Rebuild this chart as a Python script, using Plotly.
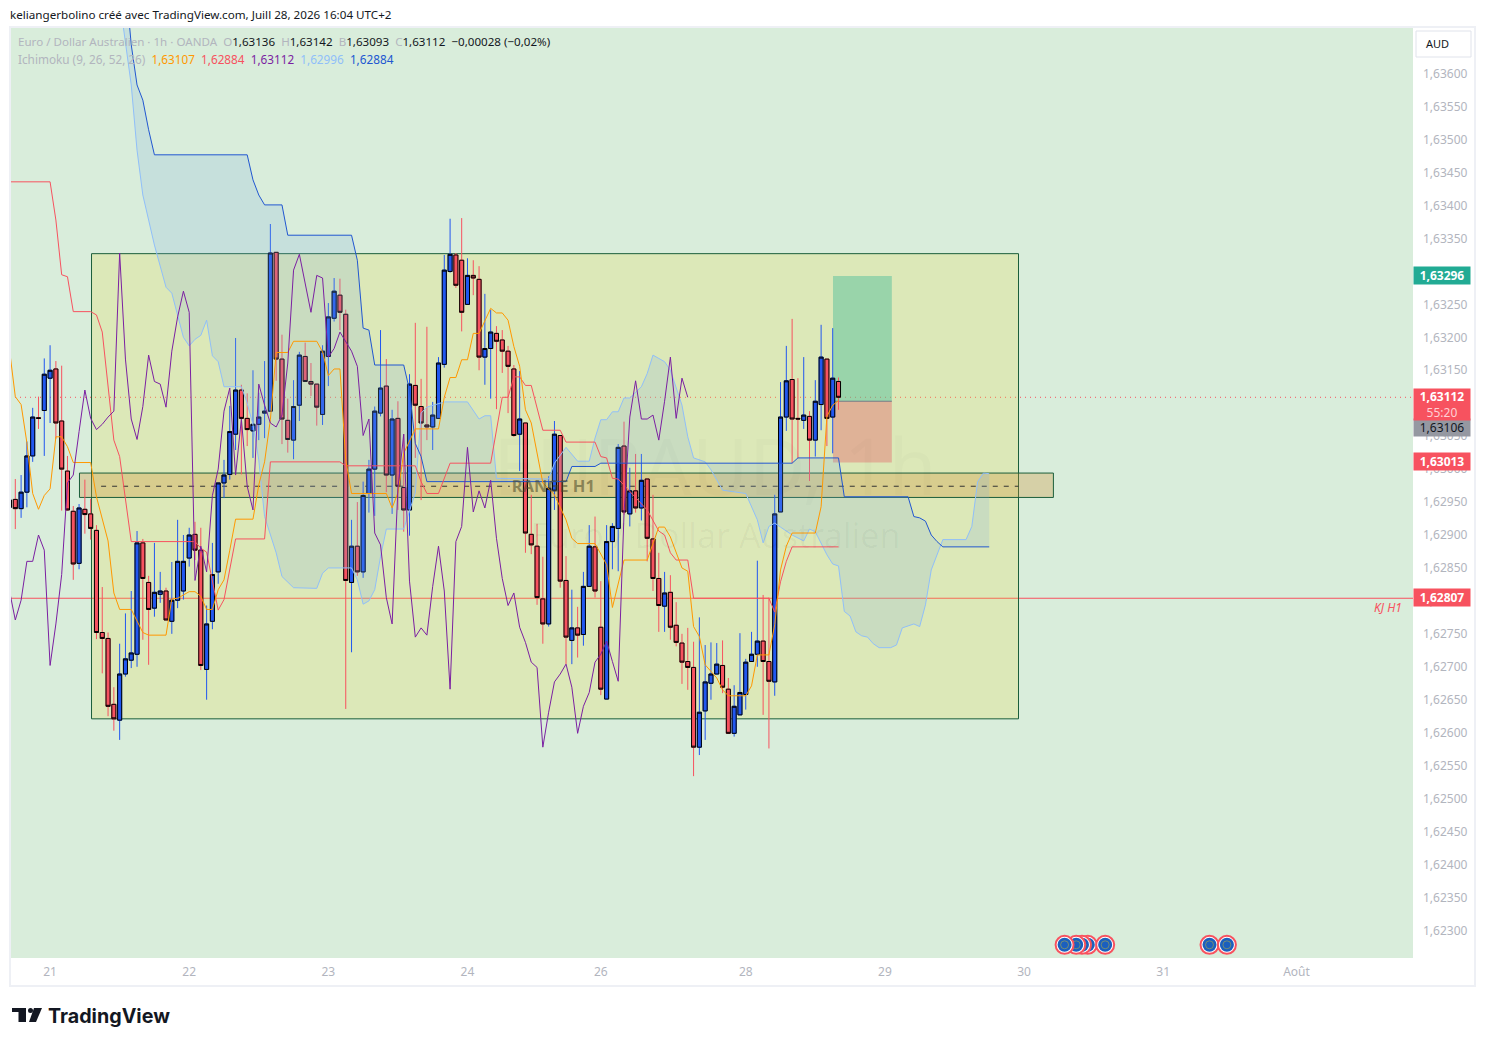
import plotly.graph_objects as go

# bar index -1 .. 142, hourly candles
bar_index = list(range(-1, 143))

opens = [
    1.62945, 1.62957, 1.62943, 1.62968, 1.63023, 1.63081, 1.63092, 1.63141, 1.63155, 1.63076, 1.63000, 1.62939,
    1.62860, 1.62942, 1.62935, 1.62910, 1.62755, 1.62746, 1.62646, 1.62622, 1.62692, 1.62713, 1.62722, 1.62891,
    1.62831, 1.62792, 1.62813, 1.62818, 1.62772, 1.62804, 1.62818, 1.62868, 1.62904, 1.62880, 1.62699, 1.62772,
    1.62847, 1.62982, 1.62995, 1.63056, 1.63123, 1.63080, 1.63061, 1.63071, 1.63088, 1.63091, 1.63332, 1.63170,
    1.63077, 1.63047, 1.63100, 1.63174, 1.63136, 1.63132, 1.63086, 1.63174, 1.63232, 1.63267, 1.63238, 1.62831,
    1.62886, 1.62847, 1.62966, 1.63003, 1.63088, 1.63129, 1.62994, 1.63080, 1.62975, 1.62941, 1.63130, 1.63098,
    1.63070, 1.63067, 1.63080, 1.63162, 1.63303, 1.63328, 1.63320, 1.63253, 1.63297, 1.63291, 1.63173, 1.63186,
    1.63209, 1.63199, 1.63182, 1.63155, 1.63056, 1.63073, 1.62904, 1.62886, 1.62806, 1.62768, 1.62971, 1.63054,
    1.62834, 1.62743, 1.62762, 1.62752, 1.62825, 1.62885, 1.62763, 1.62654, 1.62893, 1.62913, 1.63038, 1.62935,
    1.62970, 1.62944, 1.62988, 1.62897, 1.62837, 1.62795, 1.62816, 1.62766, 1.62739, 1.62711, 1.62702, 1.62581,
    1.62636, 1.62678, 1.62692, 1.62705, 1.62669, 1.62602, 1.62630, 1.62661, 1.62711, 1.62722, 1.62742, 1.62711,
    1.62680, 1.62938, 1.63082, 1.63139, 1.63080, 1.63077, 1.63083, 1.63047, 1.63101, 1.63170, 1.63082, 1.63136,
]
highs = [
    1.62958, 1.62988, 1.62994, 1.63045, 1.63096, 1.63113, 1.63171, 1.63191, 1.63167, 1.63160, 1.63023, 1.62947,
    1.62950, 1.62987, 1.62958, 1.62918, 1.62824, 1.62755, 1.62672, 1.62738, 1.62784, 1.62818, 1.62909, 1.62897,
    1.62841, 1.62891, 1.62847, 1.62823, 1.62862, 1.62926, 1.62903, 1.62914, 1.62923, 1.62914, 1.62796, 1.62891,
    1.62982, 1.63017, 1.63099, 1.63202, 1.63131, 1.63118, 1.63153, 1.63119, 1.63167, 1.63375, 1.63332, 1.63207,
    1.63110, 1.63138, 1.63181, 1.63195, 1.63164, 1.63132, 1.63191, 1.63255, 1.63293, 1.63292, 1.63245, 1.62926,
    1.62953, 1.62984, 1.63017, 1.63098, 1.63214, 1.63170, 1.63093, 1.63106, 1.63056, 1.63147, 1.63225, 1.63140,
    1.63219, 1.63105, 1.63173, 1.63328, 1.63383, 1.63331, 1.63384, 1.63323, 1.63320, 1.63311, 1.63269, 1.63245,
    1.63220, 1.63214, 1.63190, 1.63161, 1.63152, 1.63073, 1.62964, 1.62920, 1.62870, 1.62992, 1.63076, 1.63054,
    1.62871, 1.62820, 1.62794, 1.62847, 1.62918, 1.62931, 1.62833, 1.62918, 1.62921, 1.63041, 1.63075, 1.63005,
    1.63026, 1.63026, 1.62988, 1.62964, 1.62876, 1.62847, 1.62842, 1.62801, 1.62753, 1.62762, 1.62741, 1.62778,
    1.62736, 1.62740, 1.62739, 1.62743, 1.62686, 1.62675, 1.62754, 1.62715, 1.62756, 1.62864, 1.62812, 1.62808,
    1.62964, 1.63135, 1.63190, 1.63231, 1.63141, 1.63173, 1.63091, 1.63138, 1.63222, 1.63170, 1.63217, 1.63142,
]
lows = [
    1.62943, 1.62912, 1.62929, 1.62945, 1.63014, 1.63064, 1.63023, 1.63073, 1.63049, 1.62940, 1.62940, 1.62835,
    1.62851, 1.62905, 1.62896, 1.62745, 1.62693, 1.62628, 1.62606, 1.62592, 1.62688, 1.62701, 1.62703, 1.62744,
    1.62706, 1.62779, 1.62800, 1.62774, 1.62753, 1.62792, 1.62805, 1.62855, 1.62865, 1.62698, 1.62653, 1.62760,
    1.62829, 1.62959, 1.62987, 1.63032, 1.62995, 1.63038, 1.63020, 1.63047, 1.63050, 1.63091, 1.63137, 1.63041,
    1.63028, 1.63018, 1.63076, 1.63136, 1.63114, 1.63069, 1.63070, 1.63129, 1.63227, 1.63214, 1.62639, 1.62725,
    1.62841, 1.62838, 1.62937, 1.62932, 1.63083, 1.62968, 1.62935, 1.62941, 1.62908, 1.62902, 1.63020, 1.62956,
    1.63047, 1.63032, 1.63080, 1.63157, 1.63301, 1.63278, 1.63212, 1.63253, 1.63267, 1.63153, 1.63131, 1.63110,
    1.63094, 1.63149, 1.63088, 1.63052, 1.63000, 1.62876, 1.62874, 1.62797, 1.62738, 1.62764, 1.62941, 1.62823,
    1.62707, 1.62707, 1.62717, 1.62735, 1.62825, 1.62808, 1.62660, 1.62654, 1.62851, 1.62848, 1.62934, 1.62916,
    1.62937, 1.62925, 1.62863, 1.62818, 1.62756, 1.62756, 1.62744, 1.62734, 1.62677, 1.62668, 1.62537, 1.62569,
    1.62592, 1.62653, 1.62692, 1.62663, 1.62601, 1.62597, 1.62630, 1.62638, 1.62711, 1.62703, 1.62630, 1.62579,
    1.62659, 1.62938, 1.63061, 1.63012, 1.63020, 1.63064, 1.62985, 1.63022, 1.63062, 1.63038, 1.63027, 1.63093,
]
closes = [
    1.62956, 1.62943, 1.62968, 1.63023, 1.63082, 1.63080, 1.63147, 1.63153, 1.63073, 1.63003, 1.62941, 1.62859,
    1.62944, 1.62934, 1.62913, 1.62755, 1.62746, 1.62643, 1.62624, 1.62692, 1.62715, 1.62724, 1.62891, 1.62837,
    1.62790, 1.62816, 1.62818, 1.62774, 1.62804, 1.62863, 1.62863, 1.62903, 1.62880, 1.62705, 1.62768, 1.62843,
    1.62982, 1.62994, 1.63060, 1.63123, 1.63080, 1.63063, 1.63071, 1.63082, 1.63091, 1.63331, 1.63170, 1.63079,
    1.63048, 1.63098, 1.63176, 1.63136, 1.63132, 1.63097, 1.63182, 1.63234, 1.63273, 1.63241, 1.62834, 1.62886,
    1.62847, 1.62963, 1.63003, 1.63091, 1.63126, 1.62994, 1.63079, 1.62977, 1.62941, 1.63132, 1.63100, 1.63073,
    1.63067, 1.63085, 1.63164, 1.63305, 1.63329, 1.63282, 1.63241, 1.63297, 1.63293, 1.63173, 1.63186, 1.63211,
    1.63197, 1.63182, 1.63159, 1.63054, 1.63079, 1.62906, 1.62888, 1.62808, 1.62768, 1.62974, 1.63056, 1.62833,
    1.62748, 1.62762, 1.62751, 1.62825, 1.62886, 1.62818, 1.62669, 1.62893, 1.62916, 1.63036, 1.62938, 1.62970,
    1.62944, 1.62986, 1.62898, 1.62837, 1.62796, 1.62815, 1.62763, 1.62740, 1.62710, 1.62702, 1.62581, 1.62634,
    1.62680, 1.62692, 1.62707, 1.62672, 1.62602, 1.62643, 1.62664, 1.62710, 1.62722, 1.62742, 1.62711, 1.62681,
    1.62935, 1.63082, 1.63137, 1.63079, 1.63079, 1.63085, 1.63047, 1.63106, 1.63173, 1.63080, 1.63141, 1.63112,
]

# ichimoku lines, only the bars where the line visibly bends
tenkan_x = [-1, 0, 1, 2, 3, 4, 5, 6, 7, 8, 9, 10, 13, 14, 16, 17, 18, 20, 22, 23, 26, 27, 28, 30, 31, 32, 33, 34,
            35, 36, 37, 38, 41, 42, 43, 44, 45, 47, 48, 52, 53, 54, 55, 56, 57, 58, 64, 65, 66, 67, 69, 73, 74, 75,
            76, 77, 78, 79, 80, 82, 83, 84, 85, 86, 87, 88, 89, 91, 93, 95, 96, 97, 100, 102, 103, 105, 109, 111,
            112, 113, 115, 116, 117, 118, 119, 121, 122, 123, 126, 127, 128, 130, 131, 132, 133, 134, 138, 139,
            140, 141, 142]
tenkan_y = [1.63184, 1.63113, 1.63101, 1.63043, 1.62966, 1.62942, 1.62963, 1.62973, 1.63052, 1.63052, 1.63037,
            1.63013, 1.63013, 1.62961, 1.62894, 1.62815, 1.62790, 1.62790, 1.62755, 1.62751, 1.62751, 1.62806,
            1.62807, 1.62817, 1.62817, 1.62810, 1.62790, 1.62790, 1.62820, 1.62835, 1.62880, 1.62927, 1.62927,
            1.62979, 1.63014, 1.63078, 1.63180, 1.63180, 1.63197, 1.63197, 1.63181, 1.63145, 1.63155, 1.63155,
            1.63017, 1.62966, 1.62966, 1.62944, 1.62967, 1.63027, 1.63064, 1.63064, 1.63112, 1.63142, 1.63142,
            1.63169, 1.63169, 1.63209, 1.63209, 1.63247, 1.63240, 1.63240, 1.63229, 1.63189, 1.63159, 1.63093,
            1.63073, 1.62982, 1.62964, 1.62926, 1.62898, 1.62890, 1.62890, 1.62858, 1.62793, 1.62865, 1.62865,
            1.62915, 1.62915, 1.62900, 1.62853, 1.62848, 1.62764, 1.62749, 1.62706, 1.62686, 1.62668, 1.62659,
            1.62659, 1.62674, 1.62721, 1.62721, 1.62767, 1.62850, 1.62886, 1.62906, 1.62906, 1.62946, 1.63083,
            1.63100, 1.63107]

kijun_x = [-1, 6, 7, 8, 9, 10, 13, 14, 15, 17, 18, 20, 31, 32, 33, 35, 36, 37, 38, 43, 44, 56, 57, 69, 70, 71, 73,
           75, 82, 84, 85, 86, 87, 88, 89, 91, 94, 95, 100, 101, 102, 103, 104, 109, 110, 111, 112, 113, 114, 116,
           117, 130, 131, 132, 133, 134, 142]
kijun_y = [1.63439, 1.63439, 1.63381, 1.63298, 1.63295, 1.63242, 1.63242, 1.63237, 1.63211, 1.63047, 1.63022,
           1.62893, 1.62893, 1.62883, 1.62877, 1.62789, 1.62805, 1.62850, 1.62897, 1.62897, 1.63014, 1.63014,
           1.63008, 1.63008, 1.62984, 1.62966, 1.62966, 1.63012, 1.63012, 1.63112, 1.63112, 1.63143, 1.63143,
           1.63130, 1.63130, 1.63062, 1.63062, 1.63044, 1.63044, 1.63022, 1.63020, 1.62989, 1.62988, 1.62941,
           1.62926, 1.62909, 1.62903, 1.62876, 1.62865, 1.62865, 1.62807, 1.62807, 1.62786, 1.62832, 1.62863,
           1.62885, 1.62885]

senkou_a_x = [18, 19, 20, 21, 22, 23, 24, 26, 27, 29, 30, 31, 32, 33, 34, 35, 36, 39, 40, 41, 42, 43, 45, 46, 48,
              52, 53, 54, 58, 59, 60, 61, 62, 63, 64, 67, 69, 70, 71, 74, 78, 80, 81, 82, 83, 92, 93, 95, 97, 99,
              100, 101, 102, 103, 104, 105, 106, 108, 109, 110, 112, 113, 115, 116, 117, 119, 120, 122, 126, 128,
              129, 130, 131, 132, 134, 136, 137, 138, 140, 141, 142, 143, 144, 145, 146, 147, 148, 149, 151, 152,
              153, 155, 156, 157, 158, 160, 164, 165, 166, 167, 168]
senkou_a_y = [1.63715, 1.63654, 1.63586, 1.63487, 1.63419, 1.63381, 1.63343, 1.63279, 1.63270, 1.63203, 1.63190,
              1.63200, 1.63206, 1.63229, 1.63175, 1.63166, 1.63128, 1.63128, 1.63103, 1.63070, 1.63017, 1.62931,
              1.62876, 1.62840, 1.62823, 1.62822, 1.62845, 1.62853, 1.62853, 1.62835, 1.62798, 1.62803, 1.62820,
              1.62870, 1.62912, 1.62912, 1.62967, 1.63088, 1.63097, 1.63105, 1.63105, 1.63079, 1.63084, 1.63084,
              1.62989, 1.62988, 1.63012, 1.63036, 1.63015, 1.63015, 1.63050, 1.63078, 1.63078, 1.63090, 1.63090,
              1.63111, 1.63111, 1.63128, 1.63148, 1.63176, 1.63166, 1.63153, 1.63100, 1.63052, 1.63020, 1.63014,
              1.63002, 1.62971, 1.62966, 1.62926, 1.62891, 1.62916, 1.62921, 1.62915, 1.62903, 1.62894, 1.62912,
              1.62908, 1.62873, 1.62859, 1.62856, 1.62787, 1.62780, 1.62756, 1.62750, 1.62748, 1.62738, 1.62732,
              1.62732, 1.62736, 1.62762, 1.62768, 1.62764, 1.62797, 1.62850, 1.62896, 1.62896, 1.62916, 1.62984,
              1.62997, 1.62996]

senkou_b_x = [19, 20, 21, 22, 23, 24, 40, 41, 42, 43, 46, 47, 58, 59, 60, 61, 62, 67, 68, 69, 70, 71, 95, 96, 100,
              101, 134, 135, 142, 143, 154, 155, 156, 157, 158, 159, 160, 168]
senkou_b_y = [1.63745, 1.63647, 1.63586, 1.63563, 1.63518, 1.63480, 1.63480, 1.63442, 1.63419, 1.63404, 1.63404,
              1.63358, 1.63358, 1.63320, 1.63217, 1.63214, 1.63161, 1.63161, 1.63123, 1.63042, 1.63022, 1.62984,
              1.62984, 1.63007, 1.63007, 1.63012, 1.63012, 1.63020, 1.63020, 1.62961, 1.62961, 1.62931, 1.62929,
              1.62924, 1.62903, 1.62893, 1.62885, 1.62885]

# chikou is the close moved back 26 bars
chikou_shift = 26

# drawings on the chart, in bar index and price
range_box_x = [13.15, 173.05]
range_box_y = [1.62624, 1.63330]
band_box_x = [11.07, 179.07]
band_box_y = [1.62960, 1.62997]
band_mid = 1.62977
band_mid_left = [14.8, 85.3]
band_mid_right = [102.2, 173.05]
band_label_x = 92.8
band_label_y = 1.62974
kj_level = 1.62807
last_close = 1.63112
position_x = [141.05, 151.2]
take_profit = 1.63296
entry = 1.63106
stop_loss = 1.63013

event_bars = [185, 184, 183, 181, 188, 206, 209]
event_price = 1.62281

x_tick_bars = [6, 30, 54, 78, 101, 126, 150, 174, 198, 221]
x_tick_text = ['21', '22', '23', '24', '26', '28', '29', '30', '31', 'Août']

FONT = 'Noto Sans'
GREY = '#b2b5be'
RED = '#f7525f'
BLUE = '#2157f0'
BLACK = '#131722'

# chart area in page pixels, the page body adds 8px all round
W, H = 1469, 1030
PX0, PX1, PY0, PY1 = 10, 1413, 27, 958


def xp(px):
    return (px - PX0) / (PX1 - PX0)


def yp(py):
    return (PY1 - py) / (PY1 - PY0)


fig = go.Figure()

# cloud
fig.add_trace(go.Scatter(x=senkou_a_x, y=senkou_a_y, mode='lines', line=dict(color='#90bff9', width=1)))
fig.add_trace(go.Scatter(x=senkou_b_x, y=senkou_b_y, mode='lines', line=dict(color='#2157d1', width=1),
                         fill='tonexty', fillcolor='rgba(126,176,225,0.2)'))
fig.add_trace(go.Scatter(x=kijun_x, y=kijun_y, mode='lines', line=dict(color=RED, width=1)))
fig.add_trace(go.Scatter(x=tenkan_x, y=tenkan_y, mode='lines', line=dict(color='#ff9800', width=1)))
fig.add_trace(go.Scatter(x=bar_index[:-chikou_shift], y=closes[chikou_shift:], mode='lines',
                         line=dict(color='#7b1fa2', width=1)))

# zone label sits behind the candles
fig.add_trace(go.Scatter(x=[band_label_x], y=[band_label_y], mode='text', text=['<b>RANGE H1</b>'],
                         textposition='middle center',
                         textfont=dict(family=FONT, size=16.5, color='rgba(70,70,40,0.55)')))

# wicks first, then the bodies with their black outline
fig.add_trace(go.Candlestick(x=bar_index, open=opens, high=highs, low=lows, close=closes, whiskerwidth=0,
                             increasing=dict(line=dict(color=BLUE, width=1), fillcolor=BLUE),
                             decreasing=dict(line=dict(color=RED, width=1), fillcolor=RED)))
body_top = [max(o, c) for o, c in zip(opens, closes)]
body_low = [min(o, c) for o, c in zip(opens, closes)]
fig.add_trace(go.Candlestick(x=bar_index, open=opens, high=body_top, low=body_low, close=closes, whiskerwidth=0,
                             increasing=dict(line=dict(color='black', width=1), fillcolor=BLUE),
                             decreasing=dict(line=dict(color='black', width=1), fillcolor=RED)))

# economic events, each one is ring + blue disc + ring of stars so that they stack in order
ev_x, ev_size, ev_color, ev_line, ev_line_w = [], [], [], [], []
for b in event_bars:
    ev_x += [b, b, b]
    ev_size += [18, 14, 8]
    ev_color += ['white', '#1b5fbe', '#1b5fbe']
    ev_line += [RED, '#1b5fbe', 'rgba(190,180,60,0.75)']
    ev_line_w += [2, 0, 0.7]
fig.add_trace(go.Scatter(x=ev_x, y=[event_price] * len(ev_x), mode='markers',
                         marker=dict(size=ev_size, color=ev_color, opacity=1,
                                     line=dict(color=ev_line, width=ev_line_w))))

shapes = [
    # range zone
    dict(type='rect', layer='below', xref='x', yref='y', x0=range_box_x[0], x1=range_box_x[1],
         y0=range_box_y[0], y1=range_box_y[1], fillcolor='rgba(230,215,60,0.22)', line=dict(color='#1b5e3b', width=1)),
    # long position
    dict(type='rect', layer='below', xref='x', yref='y', x0=position_x[0], x1=position_x[1],
         y0=entry, y1=take_profit, fillcolor='rgba(71,188,153,0.45)', line=dict(width=0)),
    dict(type='rect', layer='below', xref='x', yref='y', x0=position_x[0], x1=position_x[1],
         y0=stop_loss, y1=entry, fillcolor='rgba(233,52,77,0.3)', line=dict(width=0)),
    dict(type='line', layer='below', xref='x', yref='y', x0=position_x[0], x1=position_x[1],
         y0=entry, y1=entry, line=dict(color='#787b86', width=1)),
    # band around the mid line, the line stops around its label
    dict(type='rect', layer='below', xref='x', yref='y', x0=band_box_x[0], x1=band_box_x[1],
         y0=band_box_y[0], y1=band_box_y[1], fillcolor='rgba(207,144,46,0.3)', line=dict(color='#1b5e3b', width=1)),
    dict(type='line', layer='below', xref='x', yref='y', x0=band_mid_left[0], x1=band_mid_left[1],
         y0=band_mid, y1=band_mid, line=dict(color='#333333', width=1, dash='5px,6px')),
    dict(type='line', layer='below', xref='x', yref='y', x0=band_mid_right[0], x1=band_mid_right[1],
         y0=band_mid, y1=band_mid, line=dict(color='#333333', width=1, dash='5px,6px')),
    # levels
    dict(type='line', layer='below', xref='paper', yref='y', x0=0, x1=1, y0=kj_level, y1=kj_level,
         line=dict(color=RED, width=1)),
    dict(type='line', layer='below', xref='paper', yref='y', x0=0, x1=1, y0=last_close, y1=last_close,
         line=dict(color=RED, width=1, dash='1px,4px')),
    # outer frame
    dict(type='rect', xref='paper', yref='paper', x0=0, x1=xp(1475), y0=yp(986), y1=1,
         line=dict(color='#eef0f5', width=2), fillcolor='rgba(0,0,0,0)'),
    # AUD button
    dict(type='rect', xref='paper', yref='paper', x0=xp(1416), x1=xp(1471), y0=yp(57), y1=yp(31),
         line=dict(color='#e0e3eb', width=1), fillcolor='white'),
    # logo
    dict(type='path', xref='paper', yref='paper', fillcolor=BLACK, line=dict(width=0),
         path='M {0} {1} L {2} {1} L {2} {3} L {4} {3} L {4} {5} L {0} {5} Z'.format(
             xp(12), yp(1008), xp(26), yp(1022), xp(18.5), yp(1012))),
    dict(type='circle', xref='paper', yref='paper', fillcolor=BLACK, line=dict(width=0),
         x0=xp(28), x1=xp(33), y0=yp(1013), y1=yp(1008)),
    dict(type='path', xref='paper', yref='paper', fillcolor=BLACK, line=dict(width=0),
         path='M {0} {1} L {2} {1} L {3} {4} L {5} {4} Z'.format(
             xp(34), yp(1008), xp(42), xp(36), yp(1022), xp(29))),
]


def tag(text, price, color, text_color='white', height=17, yshift=1):
    return dict(xref='paper', yref='y', x=xp(1442), y=price, xanchor='center', yanchor='middle', text=text,
                showarrow=False, width=56, height=height, bgcolor=color, borderpad=0, yshift=yshift, align='center',
                font=dict(family=FONT, size=12, color=text_color))


def page_text(text, px, py, size=12, color=BLACK, anchor='left', family=FONT):
    return dict(xref='paper', yref='paper', x=xp(px), y=yp(py), xanchor=anchor, yanchor='middle', text=text,
                showarrow=False, borderpad=0, align='left', font=dict(family=family, size=size, color=color))


def col(text, color):
    return '<span style="color:%s">%s</span>' % (color, text)


legend_1 = (col('Euro / Dollar Australien · 1h · OANDA', GREY) + '  ' + col('O', GREY) + '1,63136  ' + col('H', GREY)
            + '1,63142  ' + col('B', GREY) + '1,63093  ' + col('C', GREY) + '1,63112  −0,00028 (−0,02%)')
legend_2 = (col('Ichimoku (9, 26, 52, 26)', GREY) + '  ' + col('1,63107', '#ff9800') + '  ' + col('1,62884', RED) + '  '
            + col('1,63112', '#7b1fa2') + '  ' + col('1,62996', '#90bff9') + '  ' + col('1,62884', '#2157d1'))

annotations = [
    page_text('keliangerbolino créé avec TradingView.com, Juill 28, 2026 16:04 UTC+2', 9, 14.5, size=11.65),
    page_text(legend_1, 17, 42, size=11.6),
    page_text(legend_2, 17, 59, size=11.76),
    page_text('AUD', 1425, 44, size=11),
    page_text('<b>TradingView</b>', 47, 1016, size=19.7, family='Inter'),
    page_text('<i>KJ H1</i>', 1373, 607, color=RED),
    # watermark
    page_text('EURAUD, 1h', 715, 465, size=78, color='rgba(0,0,0,0.015)', anchor='center'),
    page_text('Euro / Dollar Australien', 715, 535, size=34, color='rgba(0,0,0,0.035)', anchor='center'),
    # price tags
    tag('<b>1,63296</b>', take_profit, '#22ab94'),
    tag('<b>1,62807</b>', kj_level, RED),
    tag('<b>1,63013</b>', stop_loss, RED),
    tag('1,63106', entry, '#9598a1', text_color=BLACK, yshift=-26),
    tag('<b>1,63112</b><br><span style="color:#ffd0d4">55:20</span>', last_close, RED, height=31, yshift=-7),
]

fig.update_layout(
    width=W, height=H,
    margin=dict(l=PX0 - 8, r=W - (PX1 - 8), t=PY0 - 8, b=H - (PY1 - 8)),
    paper_bgcolor='white', plot_bgcolor='#d9eddb',
    showlegend=False, hovermode=False, separators=', ', boxgap=0.3, boxgroupgap=0,
    font=dict(family=FONT, size=12, color=GREY),
    shapes=shapes, annotations=annotations,
    xaxis=dict(range=[-0.914, 241.1], showgrid=False, zeroline=False, rangeslider=dict(visible=False),
               tickmode='array', tickvals=x_tick_bars, ticktext=x_tick_text, ticks='', ticklabelstandoff=5,
               tickfont=dict(family=FONT, size=12, color=GREY), showline=False),
    yaxis=dict(range=[1.62261, 1.63674], side='right', showgrid=False, zeroline=False, tick0=1.623, dtick=0.0005,
               tickformat='.5f', ticks='', ticklabelstandoff=9, ticklabelshift=-2,
               tickfont=dict(family=FONT, size=12, color=GREY), showline=False),
)

fig.write_html("out.html")
